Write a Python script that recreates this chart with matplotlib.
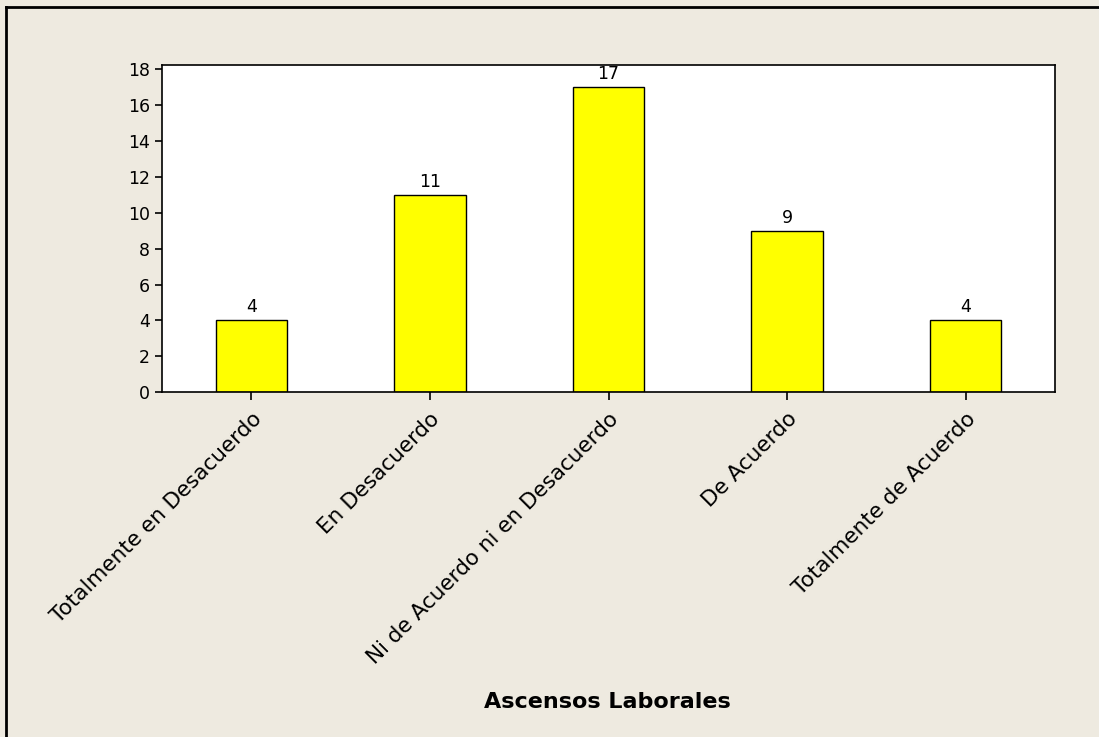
import matplotlib.pyplot as plt
from matplotlib.lines import Line2D

categorias = ['Totalmente en Desacuerdo', 'En Desacuerdo',
              'Ni de Acuerdo ni en Desacuerdo', 'De Acuerdo',
              'Totalmente de Acuerdo']
frecuencias = [4, 11, 17, 9, 4]
titulo_x = 'Ascensos Laborales'

fondo = '#EEEAE0'

fig = plt.figure(figsize=(10.99, 7.37), dpi=100, facecolor=fondo)
ax = fig.add_axes([0.1474, 0.4681, 0.8126, 0.4437])
ax.set_facecolor('white')

x = range(len(categorias))
barras = ax.bar(x, frecuencias, width=0.4, color='#FFFF00', edgecolor='black', linewidth=1)
ax.bar_label(barras, labels=[str(v) for v in frecuencias], padding=3, fontsize=12.5)

ax.set_xlim(-0.5, 4.5)
ax.set_ylim(0, 18.25)
ax.set_yticks(range(0, 19, 2))
ax.set_xticks(list(x))
ax.set_xticklabels(categorias, rotation=45, ha='right', va='top',
                   rotation_mode='anchor', fontsize=15.5)
ax.tick_params(axis='y', labelsize=12.5, length=5, width=1.2, direction='out')
ax.tick_params(axis='x', length=6, width=1.2, direction='out', pad=6)
for s in ax.spines.values():
    s.set_linewidth(1.2)

fig.text(0.553, 0.047, titulo_x, ha='center', va='center',
         fontsize=16, fontweight='bold')

# marco exterior (solo visible arriba e izquierda)
fig.add_artist(Line2D([6/1099, 6/1099], [0, 1 - 7/737], transform=fig.transFigure,
                      color='black', linewidth=2))
fig.add_artist(Line2D([6/1099, 1], [1 - 7/737, 1 - 7/737], transform=fig.transFigure,
                      color='black', linewidth=2))

plt.savefig('out.png', dpi=100, facecolor=fondo)
